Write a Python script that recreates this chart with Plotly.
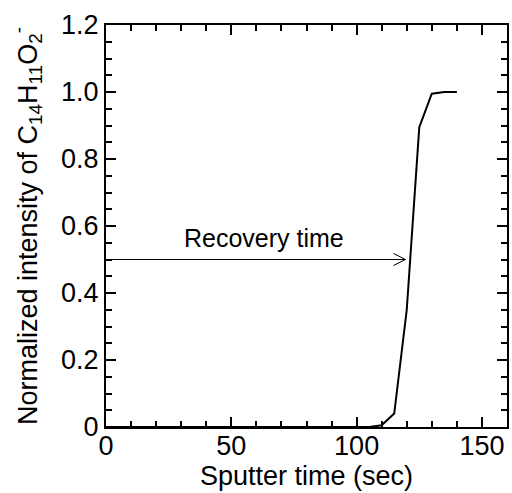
import plotly.graph_objects as go

# sputter time (sec) and normalized intensity
time_sec = [0, 20, 40, 60, 80, 100, 105, 110, 115, 120, 125, 130, 135, 140]
intensity = [0, 0, 0, 0, 0, 0, 0, 0.005, 0.04, 0.35, 0.895, 0.995, 1.0, 1.0]

x_ticks = [0, 50, 100, 150]
y_ticks = [0, 0.2, 0.4, 0.6, 0.8, 1.0, 1.2]
y_ticktext = ["0", "0.2", "0.4", "0.6", "0.8", "1.0", "1.2"]

arrow_y = 0.5
arrow_x0 = 1
arrow_x1 = 119.5
label = "Recovery time"

font = "Liberation Sans, Arial, sans-serif"

fig = go.Figure()
fig.add_trace(go.Scatter(x=time_sec, y=intensity, mode="lines",
                         line=dict(color="black", width=2), showlegend=False))

# arrow shaft + open head
hx, hy = 4.8, 0.018
fig.add_trace(go.Scatter(
    x=[arrow_x0, arrow_x1, None, arrow_x1 - hx, arrow_x1, arrow_x1 - hx],
    y=[arrow_y, arrow_y, None, arrow_y + hy, arrow_y, arrow_y - hy],
    mode="lines", line=dict(color="black", width=1), showlegend=False,
    hoverinfo="skip"))

fig.add_annotation(x=63, y=0.565, text=label, showarrow=False,
                   font=dict(size=25, color="black", family=font))

axis_common = dict(
    showgrid=False, zeroline=False, showline=True, linecolor="black",
    linewidth=2, mirror="allticks", ticks="inside", ticklen=10, tickwidth=2,
    tickcolor="black", tickfont=dict(size=27, color="black", family=font),
)

fig.update_xaxes(range=[0, 160], tickvals=x_ticks, ticklabelstandoff=-6,
                 minor=dict(ticks="inside", dtick=10, ticklen=6, tickwidth=2,
                            tickcolor="black"),
                 title=dict(text="Sputter time (sec)", standoff=0,
                            font=dict(size=27, color="black", family=font)),
                 **axis_common)
fig.update_yaxes(range=[0, 1.2], tickvals=y_ticks, ticktext=y_ticktext,
                 minor=dict(ticks="inside", dtick=0.05, ticklen=6, tickwidth=2,
                            tickcolor="black"),
                 title=dict(text="Normalized intensity of C<sub>14</sub>H<sub>11</sub>O<sub>2</sub><sup>-</sup>",
                            standoff=16,
                            font=dict(size=27, color="black", family=font)),
                 **axis_common)

fig.update_layout(
    width=512, height=493,
    margin=dict(l=106, r=3, t=25, b=66),
    plot_bgcolor="white", paper_bgcolor="white",
    font=dict(family=font, color="black"),
)

fig.write_html("out.html", config={"displayModeBar": False},
               post_script="document.body.style.margin='0';")
